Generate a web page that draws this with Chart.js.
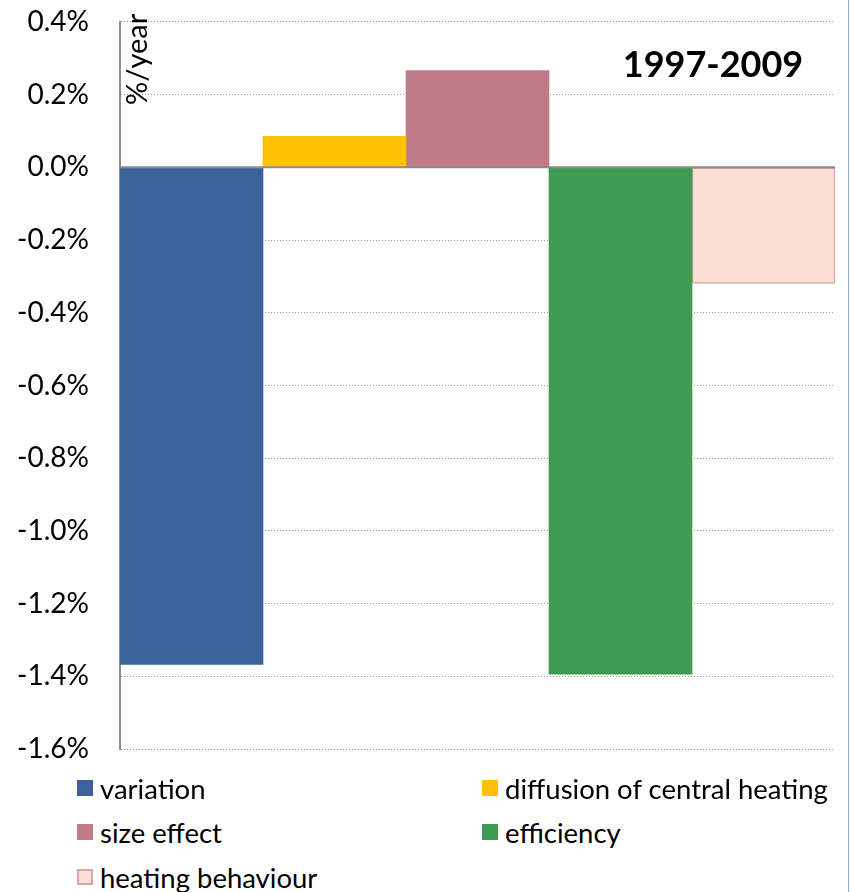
<!DOCTYPE html>
<html>
<head>
<meta charset="utf-8">
<script src="https://cdn.jsdelivr.net/npm/chart.js@4"></script>
<style>
  html, body { margin: 0; padding: 0; background: #fff; }
  #wrap { position: relative; width: 850px; height: 892px; overflow: hidden; }
  #chart-box { position: absolute; left: 0; top: -26px; width: 850px; height: 823px; }
  #edge { position: absolute; left: 848px; top: 0; width: 1px; height: 892px; background: #8ea9db; }
  #legend { position: absolute; left: 0; top: 766px; width: 850px; font-family: Lato, sans-serif; font-size: 27.5px; color: #000; }
  .lg-item { position: absolute; display: flex; align-items: center; white-space: nowrap; }
  .lg-box { width: 16px; height: 16px; margin-right: 7px; box-sizing: border-box; }
</style>
</head>
<body>
<div id="wrap">
  <div id="chart-box"><canvas id="myChart"></canvas></div>
  <div id="legend"></div>
  <div id="edge"></div>
</div>
<script>
// series names and values (%/year, 1997-2009)
const series_names = ['variation', 'diffusion of central heating', 'size effect', 'efficiency', 'heating behaviour']
const series_values = [-1.367, 0.085, 0.266, -1.394, -0.319]
const series_colors = ['#3a6399', '#ffc000', '#c07b8a', '#3f9b51', '#fbdfd2']
const series_borders = ['#3a6399', '#ffc000', '#c07b8a', '#3f9b51', '#d9a4ae']
const y_ticks = [0.4, 0.2, 0.0, -0.2, -0.4, -0.6, -0.8, -1.0, -1.2, -1.4, -1.6]
const period_label = '1997-2009'
const unit_label = '%/year'

const FONT = 'Lato'

// zero line + inner texts
const extraDraw = {
    id: 'extraDraw',
    afterDatasetsDraw(chart) {
        const ctx = chart.ctx
        const area = chart.chartArea
        const y0 = chart.scales.y.getPixelForValue(0)
        ctx.save()
        ctx.strokeStyle = '#8c8c8c'
        ctx.lineWidth = 2
        ctx.beginPath()
        ctx.moveTo(area.left, y0)
        ctx.lineTo(area.right, y0)
        ctx.stroke()

        // period title
        ctx.fillStyle = '#000'
        ctx.font = `bold 36px ${FONT}`
        ctx.textAlign = 'center'
        ctx.textBaseline = 'middle'
        ctx.fillText(period_label, 713, area.top + 44)

        // unit label, rotated
        ctx.translate(area.left + 18, area.top - 8)
        ctx.rotate(-Math.PI / 2)
        ctx.font = `29px ${FONT}`
        ctx.textAlign = 'right'
        ctx.textBaseline = 'middle'
        ctx.fillText(unit_label, 0, 0)
        ctx.restore()
    }
}

const datasets = series_names.map((name, i) => {
    return {
        label: name,
        data: [series_values[i]],
        backgroundColor: series_colors[i],
        borderColor: series_borders[i],
        borderWidth: i == 4 ? 1.5 : 0,
        borderSkipped: false,
        barPercentage: 1,
        categoryPercentage: 1,
    }
})

const config = {
    type: 'bar',
    data: {
        labels: [''],
        datasets: datasets
    },
    options: {
        responsive: true,
        maintainAspectRatio: false,
        animation: false,
        layout: {
            padding: { top: -1, right: 15, bottom: 0, left: 0 }
        },
        plugins: {
            legend: { display: false },
            tooltip: { enabled: false },
        },
        scales: {
            x: {
                display: false,
            },
            y: {
                min: -1.6,
                max: 0.4,
                afterFit: (s) => { s.width = 120 },
                afterBuildTicks: (s) => {
                    s.ticks = y_ticks.map(v => ({ value: v }))
                },
                ticks: {
                    padding: 31,
                    color: '#000',
                    font: { family: FONT, size: 28 },
                    callback: (v) => v.toFixed(1) + '%'
                },
                grid: {
                    drawTicks: false,
                    color: '#9a9a9a',
                    lineWidth: 1,
                },
                border: {
                    display: true,
                    color: '#8c8c8c',
                    width: 2,
                    dash: [1, 2],
                }
            }
        }
    },
    plugins: [extraDraw]
}

new Chart(document.querySelector('#myChart').getContext('2d'), config)

// legend in two columns, like the original
const legend_pos = [[77, 22], [482, 22], [77, 66], [482, 66], [77, 111]]
const legend_box = document.querySelector('#legend')
series_names.forEach((name, i) => {
    let item = document.createElement('div')
    item.className = 'lg-item'
    item.style.left = legend_pos[i][0] + 'px'
    item.style.top = (legend_pos[i][1] - 16) + 'px'
    item.style.height = '32px'
    item.innerHTML = `<div class="lg-box" style="background:${series_colors[i]};border:${i == 4 ? '2px solid ' + series_borders[i] : 'none'}"></div><span>${name}</span>`
    legend_box.appendChild(item)
})
</script>
</body>
</html>
